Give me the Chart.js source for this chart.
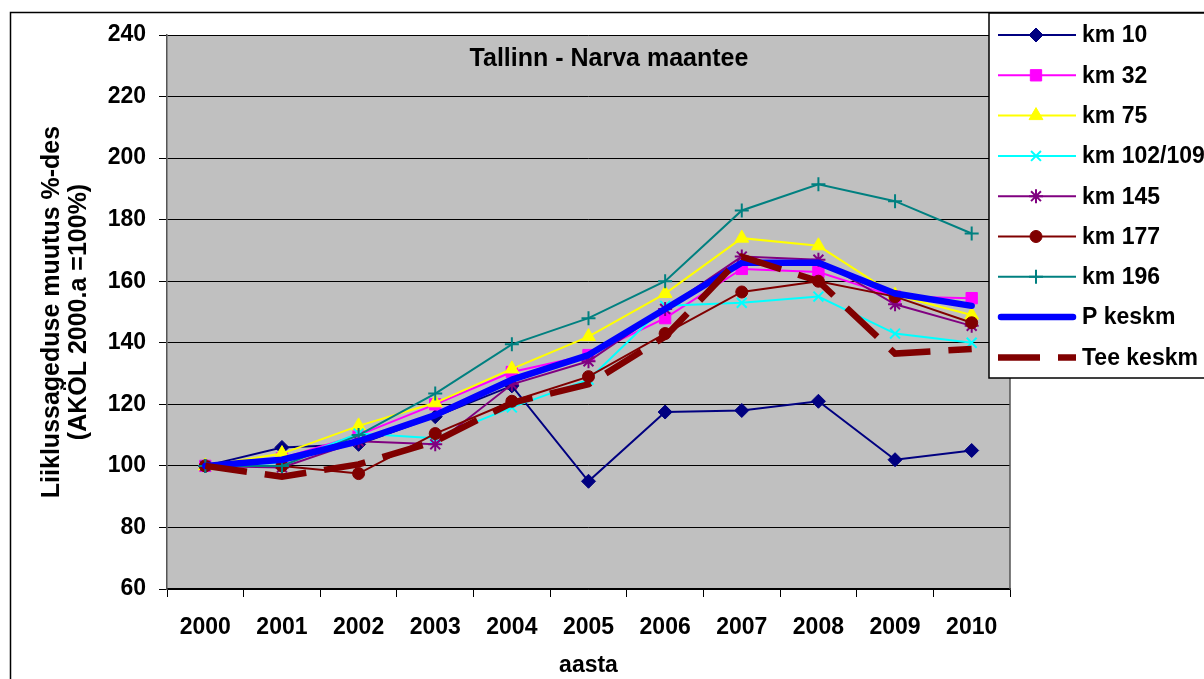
<!DOCTYPE html>
<html lang="et">
<head>
    <meta charset="UTF-8">
    <title>Tallinn - Narva maantee</title>
    <script src="https://cdn.jsdelivr.net/npm/chart.js@4"></script>
    <style>
        body { margin: 0; background: #fff; }
        #wrap { width: 1204px; height: 679px; position: relative; }
    </style>
</head>
<body>
    <div id="wrap"><canvas id="chart"></canvas></div>

    <script>
        // andmed
        const years = ['2000', '2001', '2002', '2003', '2004', '2005', '2006', '2007', '2008', '2009', '2010'];
        const km10 = [100, 106, 107, 116, 126, 95, 117.5, 118, 121, 102, 105];
        const km32 = [100, 102.5, 110, 120, 130.5, 136, 148, 164, 163, 155, 154.5];
        const km75 = [100, 104, 113, 120.5, 131.5, 142, 156, 174, 171.5, 155.5, 149];
        const km102 = [100, 101, 110.5, 109, 119, 128, 152, 153, 155, 143, 140];
        const km145 = [100, 99.5, 108, 107, 126.5, 134, 151, 168, 167, 152.5, 145.5];
        const km177 = [100, 100, 97.5, 110.5, 121, 129, 143, 156.5, 160, 155, 146.5];
        const km196 = [100, 100, 110, 123.5, 139.5, 148, 160, 183, 191.5, 186, 175.5];
        const pKeskm = [100, 102, 108, 116.5, 128, 136, 151, 166, 166, 156, 152];
        const teeKeskm = [100, 96.5, 100.5, 108, 120.5, 126.5, 142, 168, 160, 136.5, 138];
        const yTicks = [60, 80, 100, 120, 140, 160, 180, 200, 220, 240];

        const FONT = 'Arial, "Liberation Sans", sans-serif';
        const DASH = [42, 18];

        function series(label, data, color, style, radius, bw) {
            return {
                label: label,
                data: data,
                borderColor: color,
                backgroundColor: color,
                borderWidth: 2,
                pointStyle: style,
                pointRadius: radius,
                pointBorderWidth: bw,
                pointBorderColor: color,
                pointBackgroundColor: color,
                tension: 0
            };
        }

        const datasets = [
            series('km 10', km10, '#000080', 'rectRot', 7, 1),
            series('km 32', km32, '#FF00FF', 'rect', 8, 1),
            series('km 75', km75, '#FFFF00', 'triangle', 8, 1),
            series('km 102/109', km102, '#00FFFF', 'crossRot', 7, 2),
            series('km 145', km145, '#800080', 'star', 7, 2),
            series('km 177', km177, '#800000', 'circle', 6, 1),
            series('km 196', km196, '#008080', 'cross', 7, 2),
            {
                label: 'P keskm', data: pKeskm, borderColor: '#0000FF', borderWidth: 6.5,
                pointRadius: 0, borderCapStyle: 'round', borderJoinStyle: 'round', tension: 0
            },
            {
                label: 'Tee keskm', data: teeKeskm, borderColor: '#800000', borderWidth: 6.5,
                borderDash: DASH, pointRadius: 0, borderCapStyle: 'butt', tension: 0
            }
        ];
        // Exceli järjekord: hilisem seeria peal
        datasets.forEach((d, i) => { d.order = datasets.length - i; });

        const decor = {
            id: 'decor',
            beforeDraw(chart) {
                const ctx = chart.ctx;
                const a = chart.chartArea;
                ctx.save();
                ctx.fillStyle = '#fff';
                ctx.fillRect(0, 0, chart.width, chart.height);
                ctx.strokeStyle = '#000';
                ctx.lineWidth = 1.5;
                ctx.strokeRect(10.5, 12.5, 1400, 1000);
                ctx.fillStyle = '#C0C0C0';
                ctx.fillRect(a.left, a.top, a.right - a.left, a.bottom - a.top);
                ctx.restore();
            },
            afterDraw(chart) {
                const ctx = chart.ctx;
                const a = chart.chartArea;
                ctx.save();
                // plot right edge
                ctx.strokeStyle = '#555';
                ctx.lineWidth = 1.5;
                ctx.beginPath();
                ctx.moveTo(a.right, a.top);
                ctx.lineTo(a.right, a.bottom);
                ctx.stroke();

                // pealkiri
                ctx.fillStyle = '#000';
                ctx.font = 'bold 25px ' + FONT;
                ctx.textAlign = 'center';
                ctx.textBaseline = 'alphabetic';
                ctx.fillText('Tallinn - Narva maantee', 609, 66);

                // legend
                ctx.fillStyle = '#fff';
                ctx.fillRect(989, 13, 300, 365);
                ctx.strokeStyle = '#000';
                ctx.lineWidth = 1.5;
                ctx.strokeRect(989, 13, 300, 365);

                chart.data.datasets.forEach((d, i) => {
                    const y = 35 + i * 40.3;
                    ctx.save();
                    ctx.strokeStyle = d.borderColor;
                    ctx.lineWidth = d.borderWidth;
                    ctx.lineCap = d.borderCapStyle || 'butt';
                    ctx.setLineDash(d.borderDash || []);
                    ctx.beginPath();
                    if (d.borderCapStyle === 'round') {
                        ctx.moveTo(1001, y);
                        ctx.lineTo(1073, y);
                    } else {
                        ctx.moveTo(998, y);
                        ctx.lineTo(1076, y);
                    }
                    ctx.stroke();
                    ctx.setLineDash([]);
                    if (d.pointRadius > 0 && Chart.helpers && Chart.helpers.drawPoint) {
                        ctx.fillStyle = d.pointBackgroundColor;
                        ctx.strokeStyle = d.pointBorderColor;
                        ctx.lineWidth = d.pointBorderWidth;
                        Chart.helpers.drawPoint(ctx, {
                            pointStyle: d.pointStyle,
                            radius: d.pointRadius,
                            borderWidth: d.pointBorderWidth,
                            rotation: 0
                        }, 1036, y);
                    }
                    ctx.restore();
                    ctx.fillStyle = '#000';
                    ctx.font = 'bold 23px ' + FONT;
                    ctx.textAlign = 'left';
                    ctx.textBaseline = 'middle';
                    ctx.fillText(d.label, 1082, y + 1);
                });
                ctx.restore();
            }
        };

        new Chart(document.getElementById('chart'), {
            type: 'line',
            data: { labels: years, datasets: datasets },
            options: {
                responsive: true,
                maintainAspectRatio: false,
                animation: false,
                layout: { padding: { left: 0, top: 35, right: 194, bottom: 0 } },
                plugins: {
                    legend: { display: false },
                    tooltip: { enabled: false }
                },
                scales: {
                    x: {
                        offset: true,
                        grid: {
                            offset: true,
                            drawOnChartArea: false,
                            color: '#000',
                            tickLength: 8
                        },
                        border: { color: '#000', width: 1.5 },
                        ticks: {
                            color: '#000',
                            font: { family: FONT, size: 23, weight: 'bold' },
                            padding: 17,
                            maxRotation: 0,
                            autoSkip: false
                        },
                        title: {
                            display: true,
                            text: 'aasta',
                            color: '#000',
                            font: { family: FONT, size: 23, weight: 'bold' },
                            padding: { top: 0, bottom: 0 }
                        },
                        afterFit(scale) { scale.height = 90; }
                    },
                    y: {
                        min: 60,
                        max: 240,
                        afterBuildTicks(scale) {
                            scale.ticks = yTicks.map(v => ({ value: v }));
                        },
                        grid: {
                            color: '#000',
                            lineWidth: 1,
                            tickLength: 8
                        },
                        border: { color: '#555', width: 1.5 },
                        ticks: {
                            color: '#000',
                            font: { family: FONT, size: 23, weight: 'bold' },
                            padding: 13
                        },
                        title: {
                            display: true,
                            text: ['Liiklussageduse muutus %-des', '(AKÖL 2000.a =100%)'],
                            color: '#000',
                            font: { family: FONT, size: 25, weight: 'bold', lineHeight: 1.08 },
                            padding: { top: 39, bottom: 0 }
                        },
                        afterFit(scale) { scale.width = 167; }
                    }
                }
            },
            plugins: [decor]
        });
    </script>
</body>
</html>
